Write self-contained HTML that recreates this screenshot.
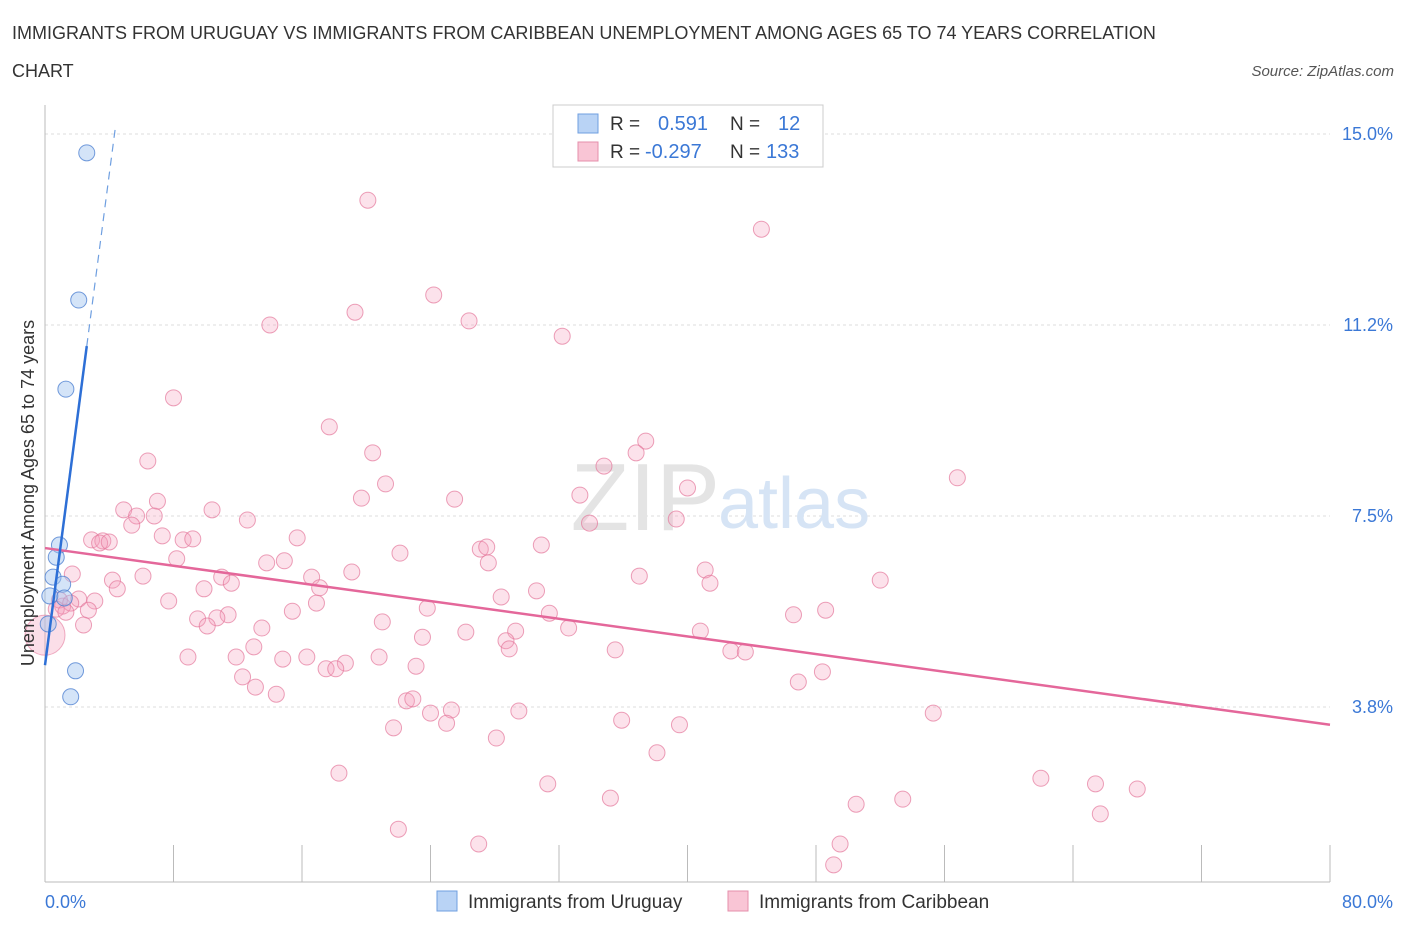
<!DOCTYPE html>
<html><head><meta charset="utf-8"><style>
body{margin:0;background:#fff;font-family:"Liberation Sans",sans-serif;}
svg text{font-family:"Liberation Sans",sans-serif;}
</style></head><body>
<svg width="1406" height="930" viewBox="0 0 1406 930" xmlns="http://www.w3.org/2000/svg">
<text x="12" y="39" font-size="18" fill="#333">IMMIGRANTS FROM URUGUAY VS IMMIGRANTS FROM CARIBBEAN UNEMPLOYMENT AMONG AGES 65 TO 74 YEARS CORRELATION</text>
<text x="12" y="77" font-size="18" fill="#333">CHART</text>
<text x="1394" y="76" font-size="15" fill="#555" font-style="italic" text-anchor="end">Source: ZipAtlas.com</text>
<g id="grid"></g>
<text x="720" y="530" font-size="96" fill="#e4e4e4" text-anchor="end" font-family="Liberation Serif">ZIP</text>
<text x="718" y="528" font-size="72" fill="#d6e4f5">atlas</text>
<g id="axes"></g>
<g id="points"></g>
<g id="trends"></g>
<g>
<rect x="553" y="105" width="270" height="62" fill="#fff" stroke="#ccc"/>
<rect x="578" y="114" width="20" height="19" fill="#b9d3f5" stroke="#6f9fe0"/>
<rect x="578" y="142" width="20" height="19" fill="#f9c5d5" stroke="#e58fab"/>
<text x="610" y="130" font-size="19" fill="#333">R =</text>
<text x="658" y="130" font-size="20" fill="#3b78d6">0.591</text>
<text x="730" y="130" font-size="19" fill="#333">N =</text>
<text x="778" y="130" font-size="20" fill="#3b78d6">12</text>
<text x="610" y="158" font-size="19" fill="#333">R =</text>
<text x="645" y="158" font-size="20" fill="#3b78d6">-0.297</text>
<text x="730" y="158" font-size="19" fill="#333">N =</text>
<text x="766" y="158" font-size="20" fill="#3b78d6">133</text>
</g>
<g>
<rect x="437" y="891" width="20" height="20" fill="#b9d3f5" stroke="#6f9fe0"/>
<text x="468" y="908" font-size="19" fill="#333">Immigrants from Uruguay</text>
<rect x="728" y="891" width="20" height="20" fill="#f9c5d5" stroke="#e58fab"/>
<text x="759" y="908" font-size="19" fill="#333">Immigrants from Caribbean</text>
</g>
<text x="45" y="908" font-size="18" fill="#3b78d6">0.0%</text>
<text x="1393" y="908" font-size="18" fill="#3b78d6" text-anchor="end">80.0%</text>
<text transform="translate(34,493) rotate(-90)" font-size="18" fill="#333" text-anchor="middle">Unemployment Among Ages 65 to 74 years</text>
</svg>
<script>
const yTicks=[15.0,11.25,7.5,3.75];
const yTickLabels=["15.0%","11.2%","7.5%","3.8%"];
const xTicks=[0,8,16,24,32,40,48,56,64,72,80];
const blueX=[2.6,2.1,1.3,0.9,0.7,0.5,1.1,1.2,0.3,0.2,1.9,1.6];
const blueY=[14.63,11.74,9.99,6.93,6.69,6.30,6.16,5.89,5.93,5.38,4.46,3.95];
const pinkX=[20.1,44.6,24.2,19.3,14.0,26.4,32.2,8.0,17.7,37.4,36.8,20.4,6.4,34.8,56.8,21.2,40.0,33.3,19.7,25.5,7.0,4.9,10.4,5.7,6.8,5.4,12.6,33.9,39.3,7.3,2.9,3.6,3.4,4.0,8.6,9.2,15.7,30.9,27.1,27.5,22.1,8.2,27.6,13.8,14.9,41.1,1.7,6.1,11.0,16.6,19.1,37.0,4.2,11.6,41.4,52.0,4.5,9.9,17.1,30.6,28.4,2.1,7.7,3.1,16.9,1.1,2.7,23.8,15.4,31.4,48.6,46.6,11.4,10.7,9.5,2.4,21.0,10.1,32.6,13.5,29.3,40.8,26.2,23.5,28.7,28.9,13.0,35.5,42.7,43.6,8.9,11.9,14.8,16.3,20.8,18.7,17.5,18.1,23.1,48.4,12.3,46.9,13.1,14.4,22.5,22.9,24.0,25.3,29.5,25.0,55.3,35.9,39.5,21.7,28.1,38.1,18.3,62.0,65.4,68.0,31.3,35.2,53.4,50.5,65.7,22.0,27.0,49.5,49.1,0.9,1.6,0.7,1.3];
const pinkY=[13.70,13.13,11.84,11.50,11.25,11.33,11.03,9.82,9.25,8.97,8.74,8.74,8.58,8.48,8.25,8.13,8.05,7.91,7.85,7.83,7.79,7.62,7.62,7.50,7.50,7.32,7.42,7.36,7.44,7.11,7.03,7.01,6.97,6.99,7.03,7.05,7.07,6.93,6.85,6.89,6.77,6.66,6.58,6.58,6.62,6.44,6.36,6.32,6.30,6.30,6.40,6.32,6.24,6.18,6.18,6.24,6.07,6.07,6.09,6.03,5.91,5.87,5.83,5.83,5.79,5.73,5.65,5.69,5.63,5.59,5.65,5.56,5.56,5.50,5.48,5.36,5.42,5.34,5.30,5.30,5.24,5.24,5.22,5.12,5.05,4.89,4.93,4.87,4.85,4.83,4.73,4.73,4.69,4.73,4.73,4.61,4.50,4.50,4.55,4.44,4.34,4.24,4.14,4.00,3.87,3.91,3.63,3.69,3.67,3.43,3.63,3.49,3.40,3.34,3.14,2.85,2.45,2.35,2.24,2.14,2.24,1.96,1.94,1.84,1.65,1.35,1.06,1.06,0.65,5.85,5.79,5.67,5.61];
const pinkTrend=[6.87,3.40];
const blueTrend=[4.57,2.41];
const NS="http://www.w3.org/2000/svg";
function X(v){return 45+v*16.0625;}
function Y(v){return 134+(15-v)*50.93;}
function mk(tag,attrs,parent){const e=document.createElementNS(NS,tag);for(const k in attrs)e.setAttribute(k,attrs[k]);document.getElementById(parent).appendChild(e);return e;}
yTicks.forEach((t,i)=>{
 const l=mk('line',{x1:45,x2:1330,y1:Y(t),y2:Y(t),stroke:'#ddd','stroke-dasharray':'3,3'},'grid');
 
 
 const tx=mk('text',{x:1393,y:Y(t)+6,'font-size':18,fill:'#3b78d6','text-anchor':'end'},'grid');
 tx.textContent=yTickLabels[i];
 
 
});
const ax=mk('line',{x1:45,x2:1330,y1:882,y2:882,stroke:'#bbb'},'axes');


const ay=mk('line',{x1:45,x2:45,y1:105,y2:882,stroke:'#bbb'},'axes');


xTicks.forEach(t=>{
 const l=mk('line',{x1:X(t),x2:X(t),y1:845,y2:882,stroke:'#bbb'},'axes');
 
 
});
const big=mk('circle',{cx:X(0),cy:Y(5.16),r:20,fill:'rgba(244,160,188,0.35)',stroke:'rgba(228,120,155,0.6)'},'points');


pinkX.forEach((x,i)=>{
 const c=mk('circle',{cx:X(x),cy:Y(pinkY[i]),r:8,fill:'rgba(244,160,188,0.3)',stroke:'rgba(228,120,155,0.7)','stroke-width':1},'points');
 
 
});
blueX.forEach((x,i)=>{
 const c=mk('circle',{cx:X(x),cy:Y(blueY[i]),r:8,fill:'rgba(160,195,240,0.45)',stroke:'rgba(80,130,210,0.8)','stroke-width':1},'points');
 
 
});
const pt=mk('line',{x1:X(0),y1:Y(pinkTrend[0]),x2:X(80),y2:Y(pinkTrend[1]),stroke:'#e4679a','stroke-width':2.5},'trends');


const bEnd=2.6, bDash=4.4;
const bt=mk('line',{x1:X(0),y1:Y(blueTrend[0]),x2:X(bEnd),y2:Y(blueTrend[0]+blueTrend[1]*bEnd),stroke:'#2d6fd6','stroke-width':2.5},'trends');


const bd=mk('line',{x1:X(bEnd),y1:Y(blueTrend[0]+blueTrend[1]*bEnd),x2:X(bDash),y2:Y(blueTrend[0]+blueTrend[1]*bDash),stroke:'#6f9fe0','stroke-width':1.2,'stroke-dasharray':'8,6'},'trends');


</script>
</body></html>
